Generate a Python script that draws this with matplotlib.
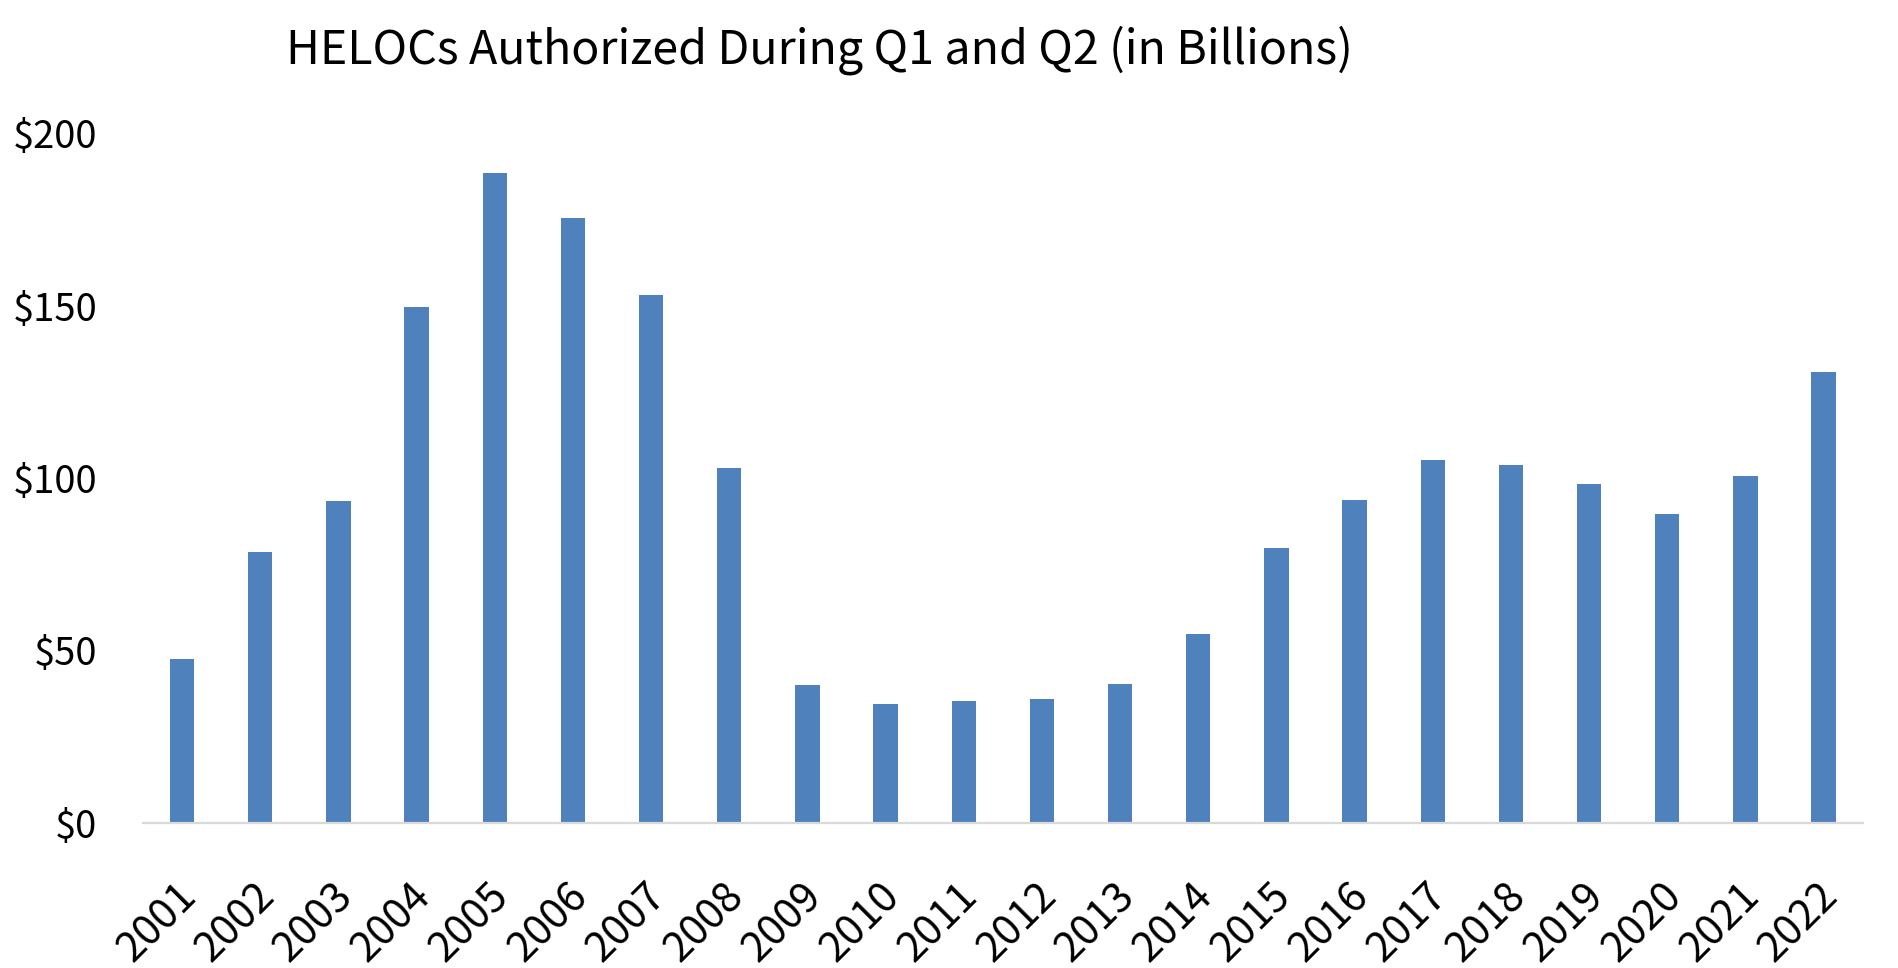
import matplotlib
matplotlib.use('Agg')
import matplotlib.pyplot as plt
from matplotlib.ticker import FuncFormatter
import matplotlib.transforms as mtransforms

plt.rcParams['font.family'] = ['Noto Sans CJK SC', 'DejaVu Sans']

# HELOCs authorized during Q1 and Q2, billions of dollars
years = ['2001', '2002', '2003', '2004', '2005', '2006', '2007', '2008', '2009', '2010', '2011',
         '2012', '2013', '2014', '2015', '2016', '2017', '2018', '2019', '2020', '2021', '2022']
helocs = [47.5, 78.5, 93.3, 149.7, 188.4, 175.3, 152.9, 102.9, 40.1, 34.6, 35.5,
          36.0, 40.4, 54.7, 79.7, 93.6, 105.2, 103.8, 98.3, 89.5, 100.6, 130.8]
yticks = [0, 50, 100, 150, 200]

fig = plt.figure(figsize=(18.98, 9.68), dpi=100)
ax = fig.add_axes([143 / 1898, 1 - 823 / 968, (1862.7 - 143) / 1898, (823 - 133) / 968])

ax.bar(range(len(years)), helocs, width=0.31, color='#4F81BD')

ax.set_xlim(-0.5, len(years) - 0.5)
ax.set_ylim(0, 200)
ax.set_yticks(yticks)
ax.yaxis.set_major_formatter(FuncFormatter(lambda v, p: f'${v:.0f}'))
ax.tick_params(axis='y', length=0, pad=33, labelsize=27.5)

ax.set_xticks(range(len(years)))
ax.set_xticklabels(years, rotation=45, ha='right', va='center', rotation_mode='anchor')
ax.tick_params(axis='x', length=0, pad=48, labelsize=30)
offset = mtransforms.ScaledTranslation(8 / 100, 0, fig.dpi_scale_trans)
for lab in ax.get_xticklabels():
    lab.set_transform(lab.get_transform() + offset)

for s in ['top', 'right', 'left']:
    ax.spines[s].set_visible(False)
ax.spines['bottom'].set_color('#D9D9D9')
ax.spines['bottom'].set_linewidth(1.6)

fig.text(819 / 1898, 1 - 50 / 968, 'HELOCs Authorized During Q1 and Q2 (in Billions)',
         ha='center', va='center', fontsize=33.5)

fig.savefig('out.png', dpi=100)
